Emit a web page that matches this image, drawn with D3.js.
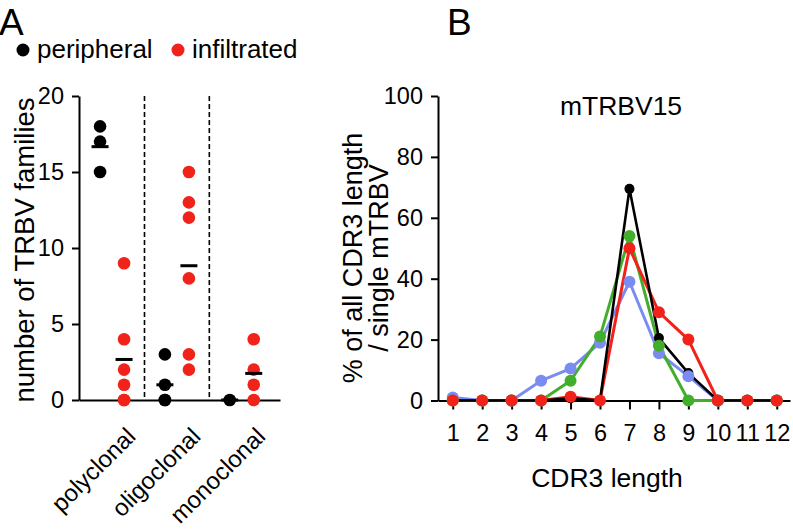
<!DOCTYPE html>
<html>
<head>
<meta charset="utf-8">
<script src="https://cdn.jsdelivr.net/npm/d3@7"></script>
<style>
  body { margin: 0; background: #fff; }
  svg { font-family: "Liberation Sans", Arial, Helvetica, sans-serif; }
</style>
</head>
<body>
<svg width="793" height="530"></svg>
<script>
// panel A data
const groups = ['polyclonal', 'oligoclonal', 'monoclonal'];
const peripheral = [[18, 17, 15], [3, 1, 0, 0], [0]];
const infiltrated = [[9, 4, 2, 1, 0, 0], [15, 13, 12, 8, 3, 2], [4, 2, 1, 0]];
const legendLabels = ['peripheral', 'infiltrated'];
const yTicksA = [0, 5, 10, 15, 20];

// panel B data
const cdr3Lengths = [1, 2, 3, 4, 5, 6, 7, 8, 9, 10, 11, 12];
const blueSeries = [1, 0, 0, 6.5, 10.5, 19, 39, 15.5, 8, 0, 0, 0];
const greenSeries = [0, 0, 0, 0, 6.5, 21, 54, 18, 0, 0, 0, 0];
const redSeries = [0, 0, 0, 0, 1.2, 0, 50, 29, 20, 0, 0, 0];
const blackSeries = [0, 0, 0, 0, 0.7, 0, 69.5, 20.5, 9, 0, 0, 0];
const yTicksB = [0, 20, 40, 60, 80, 100];

const RED = '#f0221a';
const svg = d3.select('svg');

// ---------- panel A ----------
const xA = d3.scaleBand()
  .domain(groups)
  .range([79, 280])
  .paddingInner(0)
  .paddingOuter(0.05)
  .align(0.1);
const yA = d3.scaleLinear().domain([0, 20]).range([400, 96]);

svg.append('text')
  .attr('x', -1).attr('y', 35)
  .attr('font-size', 37)
  .text('A');

// legend
const legend = svg.append('g');
[{ x: 23, c: '#000' }, { x: 178, c: RED }].forEach((d, i) => {
  legend.append('circle').attr('cx', d.x).attr('cy', 50).attr('r', 6.5).attr('fill', d.c);
  legend.append('text')
    .attr('x', d.x + 14).attr('y', 58)
    .attr('font-size', 26)
    .text(legendLabels[i]);
});

// dashed separators
svg.selectAll('line.sep')
  .data(groups.slice(1))
  .enter().append('line')
  .attr('class', 'sep')
  .attr('x1', d => xA(d)).attr('x2', d => xA(d))
  .attr('y1', yA(20)).attr('y2', yA(0))
  .attr('stroke', '#000')
  .attr('stroke-width', 1.6)
  .attr('stroke-dasharray', '5,3');

const yAxisA = svg.append('g')
  .attr('transform', 'translate(79,0)')
  .call(d3.axisLeft(yA).tickValues(yTicksA).tickSize(7).tickPadding(8).tickSizeOuter(0));
yAxisA.selectAll('text').attr('font-size', 23.5).attr('font-family', null);

const xAxisA = svg.append('g')
  .attr('transform', 'translate(0,400)')
  .call(d3.axisBottom(xA).tickSize(0).tickSizeOuter(0));
xAxisA.selectAll('text')
  .attr('font-size', 24)
  .attr('font-family', null)
  .attr('text-anchor', 'end')
  .attr('x', 0).attr('y', 0).attr('dy', null)
  .attr('transform', 'translate(25,38) rotate(-45)');

[yAxisA, xAxisA].forEach(a => {
  a.selectAll('.domain, line').attr('stroke', '#000').attr('stroke-width', 2);
});

svg.append('text')
  .attr('transform', 'translate(34,' + (yA(10) + 2) + ') rotate(-90)')
  .attr('text-anchor', 'middle')
  .attr('font-size', 27.5)
  .text('number of TRBV families');

const half = xA.bandwidth() / 2;
const sets = [
  { vals: peripheral, off: -12, color: '#000' },
  { vals: infiltrated, off: 12, color: RED }
];
sets.forEach(s => {
  groups.forEach((g, gi) => {
    const cx = xA(g) + half + s.off;
    svg.selectAll(null)
      .data(s.vals[gi])
      .enter().append('circle')
      .attr('cx', cx)
      .attr('cy', d => yA(d))
      .attr('r', 6.3)
      .attr('fill', s.color);
  });
});
// mean bars
sets.forEach(s => {
  groups.forEach((g, gi) => {
    const cx = xA(g) + half + s.off;
    const m = d3.mean(s.vals[gi]);
    svg.append('line')
      .attr('x1', cx - 8.5).attr('x2', cx + 8.5)
      .attr('y1', yA(m)).attr('y2', yA(m))
      .attr('stroke', '#000')
      .attr('stroke-width', 3);
  });
});

// ---------- panel B ----------
const xB = d3.scaleLinear().domain([0.5, 12.45]).range([438, 790]);
const yB = d3.scaleLinear().domain([0, 100]).range([400.5, 96]);

svg.append('text')
  .attr('x', 447).attr('y', 35)
  .attr('font-size', 37)
  .text('B');

const yAxisB = svg.append('g')
  .attr('transform', 'translate(438,0)')
  .call(d3.axisLeft(yB).tickValues(yTicksB).tickSize(7).tickPadding(8).tickSizeOuter(0));
const xAxisB = svg.append('g')
  .attr('transform', 'translate(0,400.5)')
  .call(d3.axisBottom(xB).tickValues(cdr3Lengths).tickFormat(d3.format('d'))
    .tickSize(9).tickPadding(15).tickSizeOuter(0));
[yAxisB, xAxisB].forEach(a => {
  a.selectAll('text').attr('font-size', 23.5).attr('font-family', null);
  a.selectAll('.domain, line').attr('stroke', '#000').attr('stroke-width', 2);
});

svg.append('text')
  .attr('x', 621).attr('y', 115)
  .attr('text-anchor', 'middle')
  .attr('font-size', 26.5)
  .text('mTRBV15');

svg.append('text')
  .attr('x', 607).attr('y', 487)
  .attr('text-anchor', 'middle')
  .attr('font-size', 26.5)
  .text('CDR3 length');

const yLab = svg.append('text')
  .attr('transform', 'translate(362,258) rotate(-90)')
  .attr('text-anchor', 'middle')
  .attr('font-size', 27);
yLab.append('tspan').attr('x', 0).attr('y', 0).text('% of all CDR3 length');
yLab.append('tspan').attr('x', 0).attr('y', 26).text('/ single mTRBV');

const series = [
  { vals: blueSeries, color: '#7b8cf0', r: 6, w: 3 },
  { vals: greenSeries, color: '#43ae2b', r: 6, w: 3 },
  { vals: redSeries, color: RED, r: 6, w: 3 },
  { vals: blackSeries, color: '#000', r: 5, w: 2.6 }
];
const line = d3.line()
  .x((d, i) => xB(cdr3Lengths[i]))
  .y(d => yB(d));

series.forEach(s => {
  svg.append('path')
    .datum(s.vals)
    .attr('d', line)
    .attr('fill', 'none')
    .attr('stroke', s.color)
    .attr('stroke-width', s.w)
    .attr('stroke-linejoin', 'round');
});
[series[3], series[0], series[1], series[2]].forEach(s => {
  svg.selectAll(null)
    .data(s.vals)
    .enter().append('circle')
    .attr('cx', (d, i) => xB(cdr3Lengths[i]))
    .attr('cy', d => yB(d))
    .attr('r', s.r)
    .attr('fill', s.color);
});
</script>
</body>
</html>
